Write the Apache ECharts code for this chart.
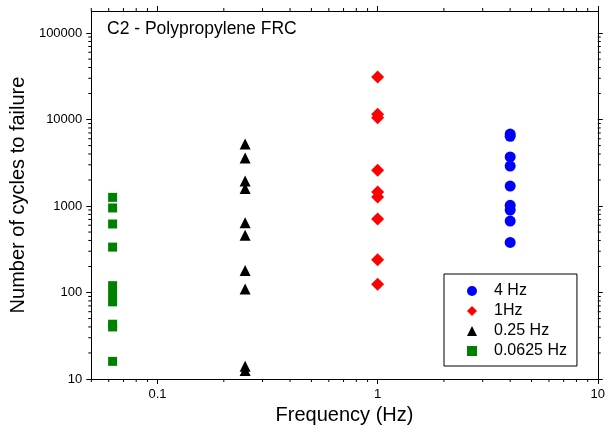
<!DOCTYPE html>
<html>
<head>
<meta charset="utf-8">
<script src="https://cdn.jsdelivr.net/npm/echarts@6/dist/echarts.min.js"></script>
<style>
  html, body { margin: 0; padding: 0; background: #fff; }
  #chart { width: 608px; height: 433px; }
</style>
</head>
<body>
<div id="chart"></div>
<script>
// test frequencies (Hz) and legend names
const frequencies = [4, 1, 0.25, 0.0625]
const seriesNames = ['4 Hz', '1Hz', '0.25 Hz', '0.0625 Hz']

// cycles to failure
const cycles4Hz = [6800, 6400, 3700, 2900, 1700, 1020, 900, 670, 380]
const cycles1Hz = [31000, 11500, 10500, 2600, 1450, 1270, 710, 240, 125]
const cycles025Hz = [5200, 3600, 1950, 1600, 640, 460, 180, 110, 14, 12.5]
const cycles00625Hz = [1260, 950, 620, 335, 120, 95, 78, 43, 40, 16]

// axis ticks
const xMajorTicks = [0.1, 1, 10]
const yMajorTicks = [10, 100, 1000, 10000, 100000]

const X_MIN = 0.05, X_MAX = 10
const Y_MIN = 10, Y_MAX = 180000
const FONT = 'Liberation Sans, Arial, sans-serif'

const minorBetween = (lo, hi) => {
  const out = []
  for (let d = lo; d < hi; d *= 10) {
    for (let k = 2; k <= 9; k++) {
      const v = +(k * d).toPrecision(6)
      if (v >= lo && v <= hi) out.push(v)
    }
  }
  return out
}
const xMinor = minorBetween(0.01, X_MAX).filter(v => v >= X_MIN)
const yMinor = minorBetween(Y_MIN, Y_MAX)

const allCycles = [cycles4Hz, cycles1Hz, cycles025Hz, cycles00625Hz]
const symbols = ['circle', 'diamond', 'triangle', 'rect']
const symbolSizes = [11, 13, 11, 9]
const colors = ['#0000ff', '#ff0000', '#000000', '#008000']

const fmt = v => String(+(+v).toPrecision(6))

const baseAxis = {
  type: 'log',
  logBase: 10,
  axisLine: { lineStyle: { color: '#000', width: 1 } },
  splitLine: { show: false },
  nameTextStyle: { color: '#000', fontSize: 20, fontFamily: FONT }
}

const tickLine = (x1, y1, x2, y2) => ({
  type: 'line',
  shape: { x1, y1, x2, y2 },
  style: { stroke: '#000', lineWidth: 1 }
})

const option = {
  animation: false,
  backgroundColor: '#fff',
  title: {
    text: 'C2 - Polypropylene FRC',
    left: 102,
    top: 15,
    textStyle: { color: '#000', fontSize: 17.5, fontWeight: 'normal', fontFamily: FONT }
  },
  legend: {
    data: seriesNames,
    orient: 'vertical',
    left: 444,
    top: 274,
    padding: [7, 10, 5, 23],
    itemGap: 0,
    itemWidth: 10,
    itemHeight: 10,
    borderColor: '#000',
    borderWidth: 1,
    textStyle: { color: '#000', fontSize: 16, fontFamily: FONT, lineHeight: 20, padding: [0, 0, 0, 12] }
  },
  grid: { left: 90, right: 10, top: 11, bottom: 54 },
  xAxis: [
    {
      ...baseAxis,
      min: X_MIN, max: X_MAX,
      name: 'Frequency (Hz)',
      nameLocation: 'middle',
      nameGap: 21,
      axisTick: { length: 5, customValues: xMajorTicks, lineStyle: { color: '#000' } },
      axisLabel: { customValues: xMajorTicks, color: '#000', fontSize: 13, fontFamily: FONT, margin: 9, formatter: fmt }
    },
    {
      ...baseAxis,
      position: 'top',
      min: X_MIN, max: X_MAX,
      axisTick: { length: 5, customValues: xMajorTicks, lineStyle: { color: '#000' } },
      axisLabel: { show: false }
    }
  ],
  yAxis: [
    {
      ...baseAxis,
      min: Y_MIN, max: Y_MAX,
      name: 'Number of cycles to failure',
      nameLocation: 'middle',
      nameGap: 42,
      axisTick: { length: 5, customValues: yMajorTicks, lineStyle: { color: '#000' } },
      axisLabel: { customValues: yMajorTicks, color: '#000', fontSize: 13, fontFamily: FONT, margin: 9, formatter: fmt }
    },
    {
      ...baseAxis,
      position: 'right',
      min: Y_MIN, max: Y_MAX,
      axisTick: { length: 5, customValues: yMajorTicks, lineStyle: { color: '#000' } },
      axisLabel: { show: false }
    }
  ],
  series: [
    ...seriesNames.map((name, i) => ({
      name,
      type: 'scatter',
      symbol: symbols[i],
      symbolSize: symbolSizes[i],
      itemStyle: { color: colors[i], opacity: 1 },
      data: allCycles[i].map(c => [frequencies[i], c]),
      z: 10 - i
    })),
    {
      // minor ticks on the y axes (left and right)
      type: 'custom',
      silent: true,
      data: yMinor.map(v => [X_MIN, v]),
      renderItem: (params, api) => {
        const v = api.value(1)
        const a = api.coord([X_MIN, v])
        const b = api.coord([X_MAX, v])
        return {
          type: 'group',
          children: [
            tickLine(a[0], a[1], a[0] - 3, a[1]),
            tickLine(b[0], b[1], b[0] + 3, b[1])
          ]
        }
      }
    },
    {
      // minor ticks on the x axes (bottom and top)
      type: 'custom',
      silent: true,
      data: xMinor.map(v => [v, Y_MIN]),
      renderItem: (params, api) => {
        const v = api.value(0)
        const a = api.coord([v, Y_MIN])
        const b = api.coord([v, Y_MAX])
        return {
          type: 'group',
          children: [
            tickLine(a[0], a[1], a[0], a[1] + 3),
            tickLine(b[0], b[1], b[0], b[1] - 3)
          ]
        }
      }
    }
  ]
}

const chart = echarts.init(document.getElementById('chart'))
chart.setOption(option)
</script>
</body>
</html>
